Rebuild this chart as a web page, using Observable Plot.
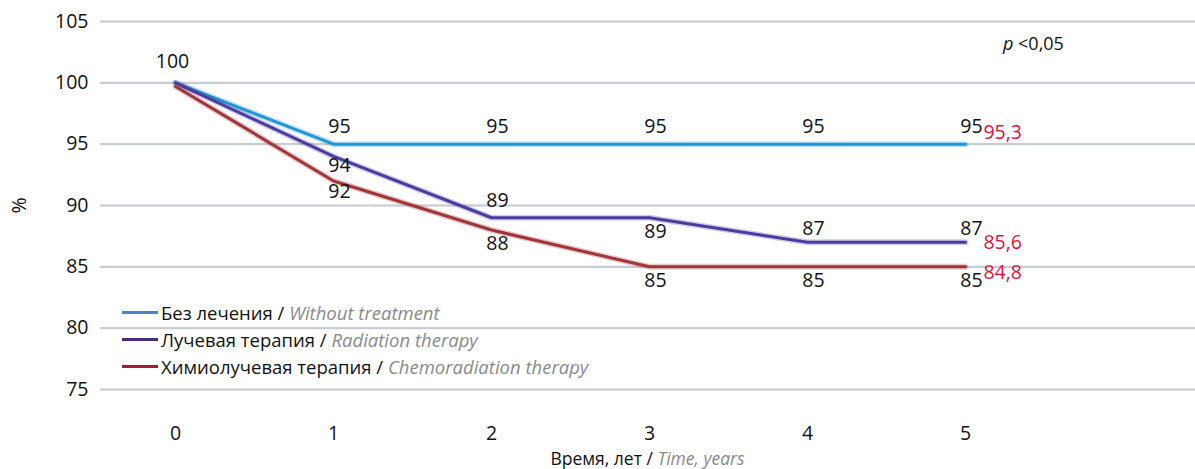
<!DOCTYPE html>
<html>
<head>
<meta charset="utf-8">
<script src="https://cdn.jsdelivr.net/npm/d3@7"></script>
<script src="https://cdn.jsdelivr.net/npm/@observablehq/plot@0.6"></script>
<style>
  body { margin: 0; background: #fff; font-family: "Open Sans", sans-serif; }
  #wrap { position: relative; width: 1195px; height: 469px; }
  .legend { position: absolute; left: 122px; top: 299px; font-size: 18.5px; color: #111; }
  .legend .row { height: 27px; display: flex; align-items: center; }
  .legend .sw { width: 36px; height: 2.5px; margin-right: 3px; }
  .legend i, .xlab i { color: #8a8a8a; }
  .pval { position: absolute; left: 1003px; top: 31px; font-size: 18px; color: #111; }
  .xlab { position: absolute; left: 0; width: 1295px; text-align: center; top: 446px; font-size: 17.5px; color: #111; }
</style>
</head>
<body>
<div id="wrap"></div>
<script>
const years = [0, 1, 2, 3, 4, 5];
const seriesNames = ["Без лечения", "Лучевая терапия", "Химиолучевая терапия"];
const seriesEnglish = ["Without treatment", "Radiation therapy", "Chemoradiation therapy"];
const withoutTreatment = [100, 95, 95, 95, 95, 95];
const radiation = [100, 94, 89, 89, 87, 87];
const chemoradiation = [99.7, 92, 88, 85, 85, 85];
const finalValues = [95.3, 85.6, 84.8];
const yTicks = [75, 80, 85, 90, 95, 100, 105];

// label placement (vertical offsets, px); null = no label
const withoutDy = [-21, -17, -17, -17, -17, -17];
const radiationDy = [null, 9, -17, 14, -14, -14];
const chemoDy = [null, 11, 14, 14, 14, 14];
const finalDy = [-11, 0, 6];

const lineColors = ["#1f96d6", "#4a3c9e", "#a0353a"];
const swatchColors = ["#4a86c5", "#4b2a80", "#a01c3a"];
const seriesValues = [withoutTreatment, radiation, chemoradiation];
const seriesDy = [withoutDy, radiationDy, chemoDy];

const rows = [];
seriesValues.forEach((vals, s) => years.forEach((yr, i) => rows.push({series: s, year: yr, value: vals[i], dy: seriesDy[s][i]})));
const labelRows = rows.filter(d => d.dy != null);
const finals = finalValues.map((v, s) => ({series: s, year: years[years.length - 1], value: seriesValues[s][years.length - 1], label: String(v).replace(".", ","), dy: finalDy[s]}));

const marks = [
  Plot.ruleY(yTicks, {stroke: "#c6ccd1", strokeWidth: 2.2}),
  Plot.axisY({ticks: yTicks, tickSize: 0, tickPadding: 12, fontSize: 19.5, label: "%", labelAnchor: "center", labelArrow: "none", labelOffset: 88, labelFontSize: 18}),
  Plot.axisX({ticks: years, tickSize: 0, tickPadding: 37, fontSize: 19.5, label: null, tickFormat: d => d}),
];
seriesValues.forEach((vals, s) => {
  const data = rows.filter(d => d.series === s);
  marks.push(Plot.line(data, {x: "year", y: "value", stroke: lineColors[s], strokeWidth: 6, strokeOpacity: 0.25}));
  marks.push(Plot.line(data, {x: "year", y: "value", stroke: lineColors[s], strokeWidth: 3}));
});
labelRows.forEach(d => {
  marks.push(Plot.text([d], {x: "year", y: "value", text: d => d.year === 0 ? "100" : String(Math.round(d.value)), dy: d.dy, dx: d.year === 0 ? -3 : 6, fontSize: 19.5, fill: "#111"}));
});
finals.forEach(d => {
  marks.push(Plot.text([d], {x: "year", y: "value", text: "label", dy: d.dy, dx: 18, textAnchor: "start", fontSize: 19.5, fill: "#e2133a"}));
});

const chart = Plot.plot({
  width: 1195,
  height: 469,
  marginLeft: 100,
  marginRight: 0,
  marginTop: 21,
  marginBottom: 80,
  style: {fontFamily: "'Open Sans', sans-serif", color: "#111", background: "#fff", overflow: "visible"},
  x: {domain: [-0.475, 6.456], axis: null},
  y: {domain: [75, 105], axis: null},
  marks
});
const wrap = document.getElementById("wrap");
wrap.appendChild(chart);

const legend = document.createElement("div");
legend.className = "legend";
seriesNames.forEach((n, i) => {
  const r = document.createElement("div");
  r.className = "row";
  r.innerHTML = `<span class="sw" style="background:${swatchColors[i]}"></span><span>${n} / <i>${seriesEnglish[i]}</i></span>`;
  legend.appendChild(r);
});
wrap.appendChild(legend);

const p = document.createElement("div");
p.className = "pval";
p.innerHTML = "<i>p</i> &lt;0,05";
wrap.appendChild(p);

const xl = document.createElement("div");
xl.className = "xlab";
xl.innerHTML = "Время, лет / <i>Time, years</i>";
wrap.appendChild(xl);
</script>
</body>
</html>
